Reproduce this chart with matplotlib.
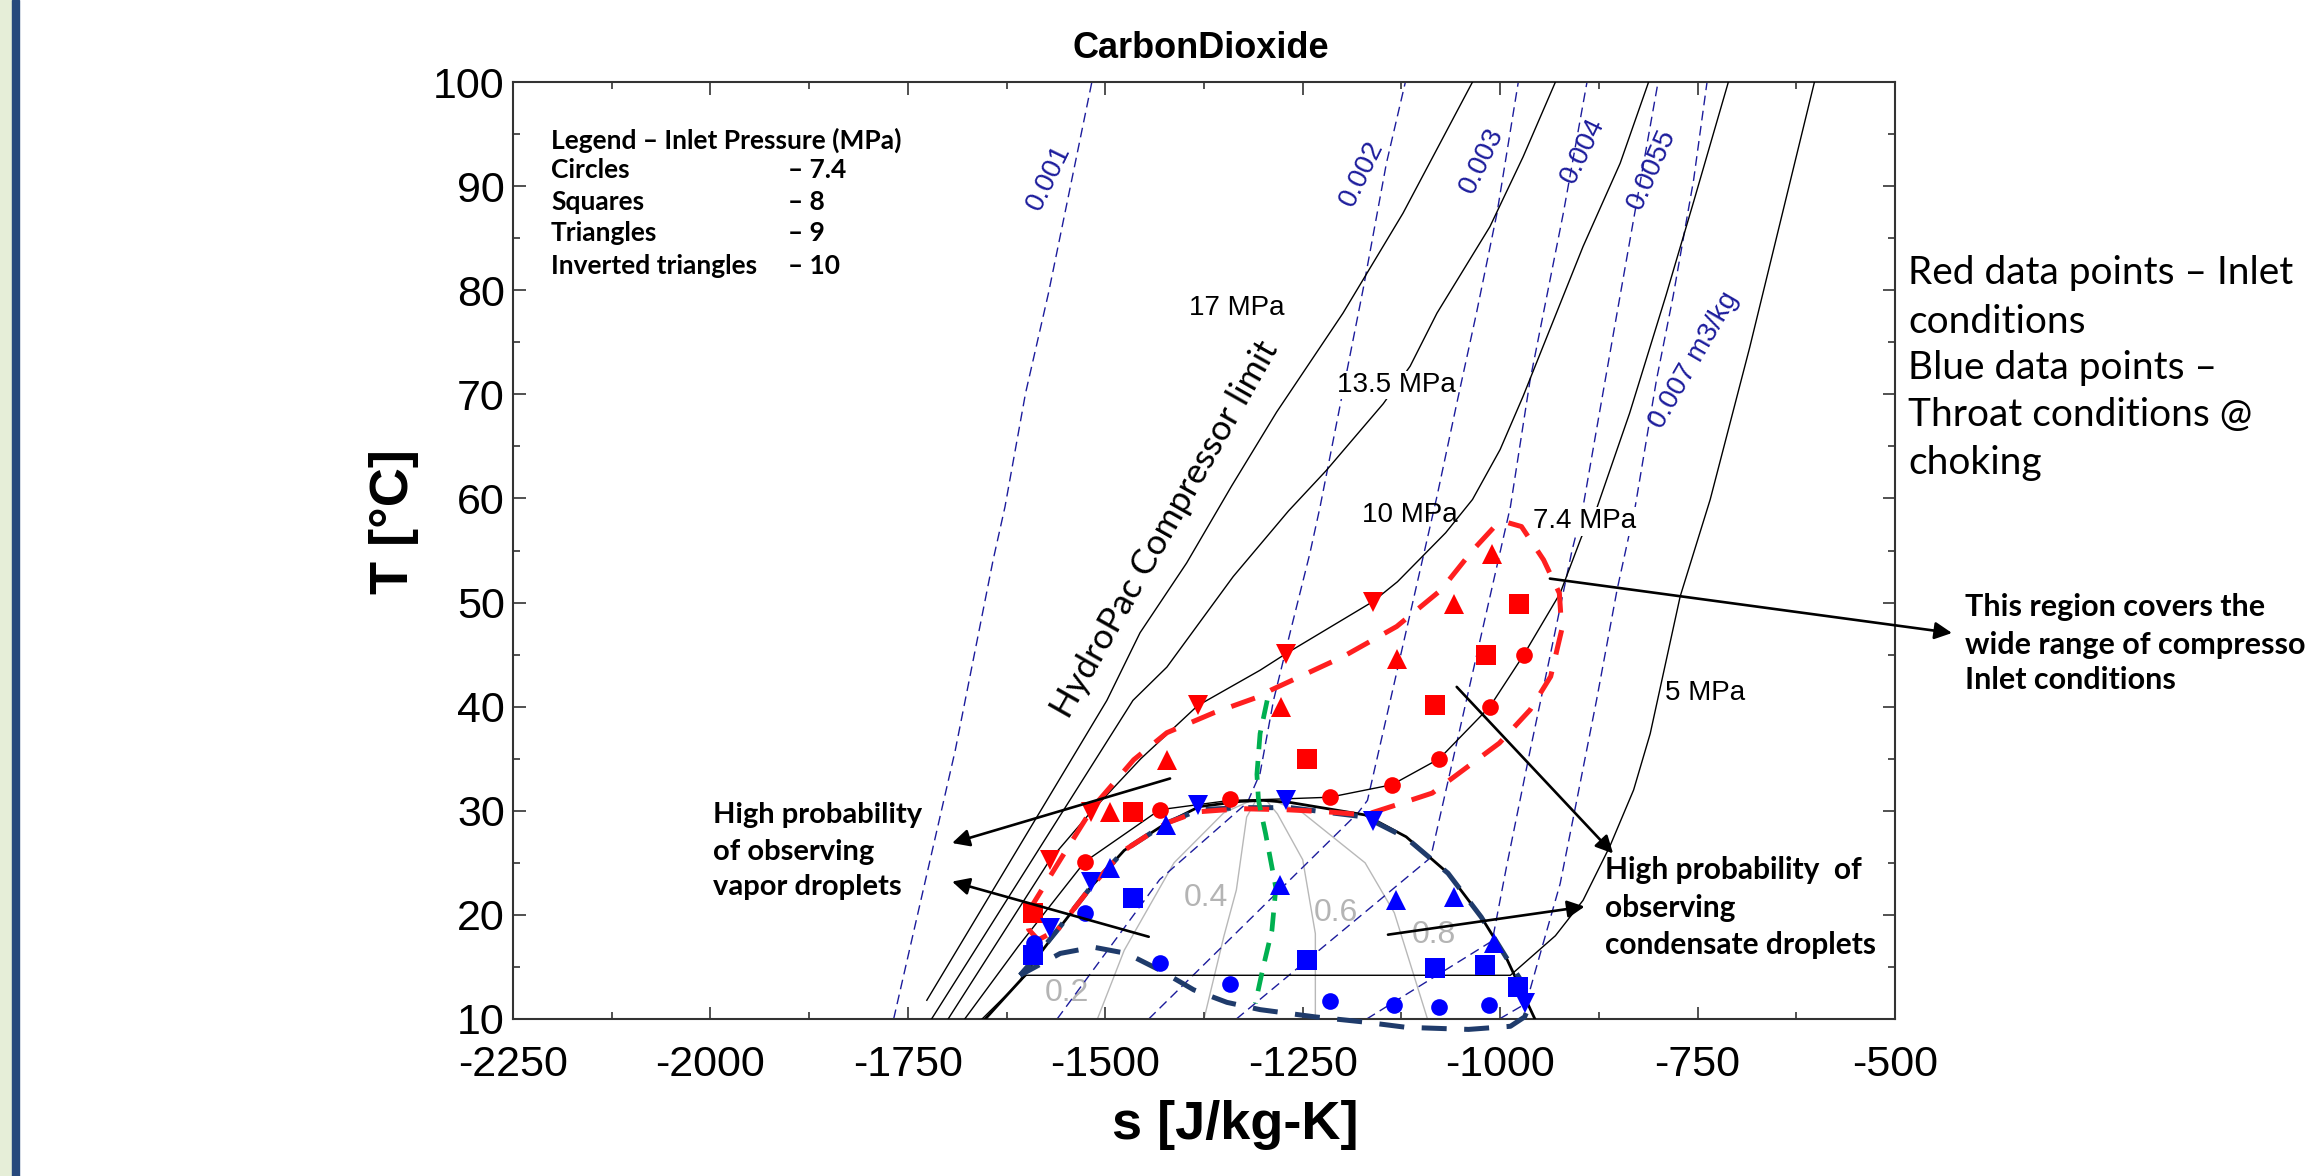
import matplotlib
matplotlib.use("Agg")
import matplotlib.pyplot as plt
from matplotlib.patches import Rectangle

plt.rcParams["axes.unicode_minus"] = False

# ------------------------------------------------------------------ data
x_ticks = [-2250, -2000, -1750, -1500, -1250, -1000, -750, -500]
y_ticks = [10, 20, 30, 40, 50, 60, 70, 80, 90, 100]

# saturation dome
dome_s = [-1652, -1607, -1592, -1560, -1518, -1476, -1423, -1381, -1329, -1300, -1266, -1171, -1119, -1066, -1024, -993, -956]
dome_T = [10, 13.75, 15.35, 18.55, 22.7, 26.2, 28.8, 30.4, 30.9, 31.0, 30.8, 29.6, 27.5, 24.0, 19.8, 16.0, 10]

# isobars (MPa)
p17_s = [-1726, -1612, -1498, -1456, -1397, -1340, -1283, -1199, -1123, -1035]
p17_T = [11.8, 26.2, 40.6, 47.1, 53.8, 61.2, 68.3, 77.8, 87.4, 100]
p135_s = [-1720, -1465, -1422, -1338, -1268, -1220, -1148, -1114, -1080, -1013, -971, -930]
p135_T = [10, 40.6, 43.8, 52.5, 58.8, 62.7, 69.1, 72.7, 77.8, 86.1, 92.8, 100]
p10_s = [-1699, -1570, -1518, -1455, -1383, -1304, -1271, -1161, -1130, -1069, -1035, -1000, -971, -895, -848, -812]
p10_T = [10, 25.3, 29.9, 35.0, 40.1, 43.5, 45.1, 50.1, 52.0, 56.7, 59.9, 64.7, 69.8, 84.2, 92.2, 100]
p74_s = [-1678, -1610, -1526, -1431, -1342, -1290, -1216, -1137, -1077, -1013, -970, -924, -897, -877, -836, -790, -755, -711]
p74_T = [10, 17.0, 25.1, 30.1, 31.0, 31.1, 31.3, 32.5, 35.0, 40.0, 45.0, 50.9, 56.3, 59.2, 68.2, 79.5, 88.5, 100]
p5_s = [-1656, -1600, -987, -975, -930, -895, -861, -831, -810, -772, -734, -684, -602]
p5_T = [10, 14.2, 14.2, 15.0, 18.0, 21.4, 26.6, 32.0, 37.4, 50.6, 59.9, 74.5, 100]

# isochores (m3/kg)
v001_s = [-1768, -1690, -1642, -1627, -1601, -1572, -1517]
v001_T = [10, 35.8, 54.1, 59.2, 70.1, 79.7, 100]
v002_s = [-1561, -1431, -1320, -1304, -1287, -1266, -1241, -1228, -1203, -1173, -1144, -1120]
v002_T = [10, 23.4, 30.8, 33.6, 40.6, 47.1, 54.7, 59.2, 68.8, 80.3, 92.2, 100]
v003_s = [-1445, -1180, -1168, -1080, -1055, -1030, -1004, -977]
v003_T = [10, 29.8, 31.0, 60.2, 69.1, 77.8, 87.4, 100]
v004_s = [-1334, -1088, -987, -962, -941, -920, -890]
v004_T = [10, 25.5, 59.2, 71.4, 79.4, 87.4, 100]
v0055_s = [-1169, -1010, -992, -962, -937, -909, -895, -878, -852, -831, -800]
v0055_T = [10, 17.5, 24.6, 35.8, 44.8, 55.0, 59.2, 66.6, 77.8, 86.8, 100]
v007_s = [-1001, -967, -954, -924, -903, -878, -852, -829, -802, -781, -755, -738]
v007_T = [10, 11.5, 15.0, 23.0, 31.0, 40.6, 51.2, 59.2, 71.4, 79.4, 90.6, 100]

# vapour quality lines
q02_s = [-1510, -1476, -1413, -1350, -1318]
q02_T = [10, 16.6, 25.0, 29.8, 30.9]
q04_s = [-1375, -1350, -1334, -1321, -1310]
q04_T = [10, 17.9, 22.4, 29.4, 30.9]
q06_s = [-1234, -1234, -1250, -1282, -1295]
q06_T = [10, 18.2, 25.3, 29.7, 30.9]
q08_s = [-1092, -1134, -1171, -1250, -1285]
q08_T = [10, 20.2, 25.0, 29.8, 30.9]

# inlet conditions (red)
red_circ_s = [-1526, -1431, -1342, -1216, -1137, -1077, -1013, -970]
red_circ_T = [25.1, 30.1, 31.1, 31.3, 32.5, 35.0, 40.0, 45.0]
red_sq_s = [-1592, -1465, -1244, -1082, -1018, -976]
red_sq_T = [20.2, 29.9, 35.0, 40.2, 45.0, 49.9]
red_tri_s = [-1494, -1422, -1278, -1131, -1058, -1010]
red_tri_T = [29.9, 34.9, 40.0, 44.6, 49.9, 54.7]
red_inv_s = [-1570, -1518, -1383, -1271, -1161]
red_inv_T = [25.3, 29.9, 40.2, 45.1, 50.1]

# throat conditions at choking (blue)
blue_circ_s = [-1590, -1526, -1431, -1342, -1216, -1134, -1077, -1014]
blue_circ_T = [17.3, 20.2, 15.35, 13.4, 11.7, 11.3, 11.2, 11.3]
blue_sq_s = [-1592, -1465, -1244, -1082, -1019, -977]
blue_sq_T = [16.1, 21.6, 15.7, 14.9, 15.2, 13.1]
blue_tri_s = [-1494, -1423, -1279, -1132, -1058, -1008]
blue_tri_T = [24.5, 28.6, 22.9, 21.4, 21.7, 17.3]
blue_inv_s = [-1570, -1518, -1383, -1271, -1161, -969]
blue_inv_T = [18.7, 23.2, 30.6, 31.0, 29.0, 11.5]

# region boundaries
inlet_s = [-1560, -1585, -1597, -1600, -1591, -1557, -1515, -1464, -1422, -1363, -1304, -1290, -1199, -1131,
           -1075, -1035, -1007, -996, -973, -945, -925, -922, -936, -962, -1001, -1047, -1086, -1130, -1171,
           -1219, -1270, -1329, -1383, -1423, -1476, -1518, -1560]
inlet_T = [18.6, 17.6, 18.6, 19.8, 21.1, 25.3, 30.4, 34.9, 37.5, 39.4, 41.0, 41.6, 44.8, 47.7,
           51.2, 55.0, 57.3, 57.8, 57.3, 54.1, 50.9, 47.4, 42.9, 39.7, 36.5, 33.9, 31.7, 30.6, 29.6,
           29.9, 30.1, 30.2, 29.9, 28.8, 26.2, 22.7, 18.6]
throat_s = [-1608, -1592, -1560, -1518, -1476, -1423, -1381, -1329, -1266, -1171, -1119, -1066, -1024, -993,
            -971, -964, -969, -987, -1040, -1119, -1171, -1234, -1304, -1346, -1388, -1431, -1473, -1515, -1557, -1608]
throat_T = [14.2, 15.6, 18.6, 22.7, 26.2, 28.8, 30.1, 30.3, 30.3, 29.4, 27.4, 24.0, 19.8, 16.0,
            13.4, 11.1, 10.2, 9.3, 9.0, 9.2, 9.7, 10.2, 10.9, 11.6, 12.8, 14.7, 16.3, 16.9, 16.3, 14.2]
pseudo_s = [-1295, -1304, -1308, -1306, -1297, -1284, -1289, -1300, -1310]
pseudo_T = [40.6, 37.4, 33.5, 31.0, 27.8, 22.6, 18.5, 15.0, 11.5]

# ------------------------------------------------------------------ figure
W, H = 2305, 1176
fig = plt.figure(figsize=(W / 100, H / 100), dpi=100)
fig.patch.set_facecolor("white")

# decorative slide strip on the left
fig.patches.append(Rectangle((0, 0), 11.5 / W, 1, transform=fig.transFigure, color="#e6eed8", zorder=0))
fig.patches.append(Rectangle((11.5 / W, 0), 7 / W, 1, transform=fig.transFigure, color="#27497c", zorder=0))

ax = fig.add_axes([513 / W, 1 - 1019 / H, (1895 - 513) / W, (1019 - 82) / H])
ax.set_xlim(-2250, -500)
ax.set_ylim(10, 100)

ARIAL = "Liberation Sans"
CAL = "Lato"
NAVY = "#1c1c9c"

# quality lines
for qs, qt in [(q02_s, q02_T), (q04_s, q04_T), (q06_s, q06_T), (q08_s, q08_T)]:
    ax.plot(qs, qt, color="#b8b8b8", lw=1.0, zorder=1)
for lab, s, t in [("0.2", -1549, 12.5), ("0.4", -1372, 21.6), ("0.6", -1208, 20.2), ("0.8", -1084, 18.1)]:
    ax.text(s, t, lab, color="#b4b4b4", fontsize=23, family=ARIAL, ha="center", va="center", zorder=2)

# isochores
for vs, vt in [(v001_s, v001_T), (v002_s, v002_T), (v003_s, v003_T), (v004_s, v004_T), (v0055_s, v0055_T), (v007_s, v007_T)]:
    ax.plot(vs, vt, color=NAVY, lw=1.0, ls=(0, (7, 4)), zorder=2)
for lab, s, t, r in [("0.001", -1571, 90.8, 64), ("0.002", -1175, 91.2, 64), ("0.003", -1023, 92.4, 64),
                     ("0.004", -895, 93.4, 64), ("0.0055", -808, 91.6, 66), ("0.007 m3/kg", -755, 73.3, 60)]:
    ax.text(s, t, lab, color=NAVY, fontsize=20, family=ARIAL, ha="center", va="center", rotation=r,
            rotation_mode="anchor", zorder=3)

# isobars
for ps, pt in [(p17_s, p17_T), (p135_s, p135_T), (p10_s, p10_T), (p74_s, p74_T), (p5_s, p5_T)]:
    ax.plot(ps, pt, color="black", lw=1.0, zorder=3)
ax.plot(dome_s, dome_T, color="black", lw=2.0, zorder=3)

box = dict(facecolor="white", edgecolor="none", pad=1)
ax.text(-1334, 78.3, "17 MPa", fontsize=20, family=ARIAL, ha="center", va="center", zorder=4)
ax.text(-1131, 70.9, "13.5 MPa", fontsize=20, family=ARIAL, ha="center", va="center", bbox=box, zorder=4)
ax.text(-1114, 58.4, "10 MPa", fontsize=20, family=ARIAL, ha="center", va="center", zorder=4)
ax.text(-893, 57.8, "7.4 MPa", fontsize=20, family=ARIAL, ha="center", va="center", bbox=box, zorder=4)
ax.text(-741, 41.3, "5 MPa", fontsize=20, family=ARIAL, ha="center", va="center", zorder=4)
ax.text(-1424, 57.0, "HydroPac Compressor limit", fontsize=25.5, family=CAL, ha="center", va="center",
        rotation=60.5, rotation_mode="anchor", zorder=4)

# region boundaries
ax.plot(throat_s, throat_T, color="#1f3b6b", lw=3.6, ls=(0, (5, 3.5)), zorder=5, clip_on=False)
ax.plot(inlet_s, inlet_T, color="#ff1f1f", lw=3.6, ls=(6, (5, 3.5)), zorder=6)
ax.plot(pseudo_s, pseudo_T, color="#00b050", lw=3.4, ls=(0, (4, 2.5)), zorder=6)

# data markers
ms = dict(ls="none", zorder=8, markeredgewidth=0)
ax.plot(red_circ_s, red_circ_T, "o", color="#ff0000", ms=12, **ms)
ax.plot(red_sq_s, red_sq_T, "s", color="#ff0000", ms=14, **ms)
ax.plot(red_tri_s, red_tri_T, "^", color="#ff0000", ms=15, **ms)
ax.plot(red_inv_s, red_inv_T, "v", color="#ff0000", ms=15, **ms)
ax.plot(blue_circ_s, blue_circ_T, "o", color="#0000ff", ms=12, **ms)
ax.plot(blue_sq_s, blue_sq_T, "s", color="#0000ff", ms=14, **ms)
ax.plot(blue_tri_s, blue_tri_T, "^", color="#0000ff", ms=15, **ms)
ax.plot(blue_inv_s, blue_inv_T, "v", color="#0000ff", ms=15, **ms)

# arrows
ap = dict(arrowstyle="-|>", color="black", lw=1.9, mutation_scale=26, shrinkA=0, shrinkB=0)
ax.annotate("", xy=(-1694, 26.9), xytext=(-1418, 33.1), arrowprops=ap, zorder=9)
ax.annotate("", xy=(-1694, 23.2), xytext=(-1445, 17.9), arrowprops=ap, zorder=9)
ax.annotate("", xy=(-857, 25.9), xytext=(-1055, 41.9), arrowprops=ap, zorder=9)
ax.annotate("", xy=(-893, 20.8), xytext=(-1142, 18.1), arrowprops=ap, zorder=9)
ax.annotate("", xy=(1952, H - 633), xycoords="figure pixels", xytext=(-937, 52.3), textcoords="data",
            arrowprops=ap, annotation_clip=False, zorder=9)

# axes styling
ax.set_xticks(x_ticks)
ax.set_yticks(y_ticks)
ax.set_xticks([x + 125 for x in x_ticks[:-1]], minor=True)
ax.set_yticks([y + 5 for y in y_ticks[:-1]], minor=True)
ax.tick_params(which="both", direction="in", top=True, right=True, color="#333333", width=1.2)
ax.tick_params(which="major", length=9)
ax.tick_params(which="minor", length=5)
ax.tick_params(axis="x", which="major", pad=19, labelsize=31)
ax.tick_params(axis="y", which="major", pad=6, labelsize=31)
for lab in ax.get_xticklabels() + ax.get_yticklabels():
    lab.set_family(ARIAL)
for sp in ax.spines.values():
    sp.set_color("#333333")
    sp.set_linewidth(1.5)

fig.text(1201 / W, 1 - 48 / H, "CarbonDioxide", fontsize=26, fontweight="bold", family=ARIAL, ha="center", va="center")
fig.text(394 / W, 1 - 522 / H, "T [°C]", fontsize=39, fontweight="bold", family=ARIAL, ha="center", va="center", rotation=90)
fig.text(1235 / W, 1 - 1125 / H, "s [J/kg-K]", fontsize=39, fontweight="bold", family=ARIAL, ha="center", va="center")

# legend block inside the plot
leg_left = ["Legend – Inlet Pressure (MPa)", "Circles", "Squares", "Triangles", "Inverted triangles"]
leg_right = ["", "– 7.4", "– 8", "– 9", "– 10"]
leg_y = [140, 170, 201.7, 233.3, 265.7]
for a, b, y in zip(leg_left, leg_right, leg_y):
    fig.text(551 / W, 1 - y / H, a, fontsize=19, fontweight="bold", family=CAL, ha="left", va="center")
    if b:
        fig.text(788 / W, 1 - y / H, b, fontsize=19, fontweight="bold", family=CAL, ha="left", va="center")

# side notes
side = ["Red data points – Inlet", "conditions", "Blue data points –", "Throat conditions @", "choking"]
for t, y in zip(side, [273, 322, 368, 415, 463]):
    fig.text(1908 / W, 1 - y / H, t, fontsize=28, family=CAL, ha="left", va="center")
for t, y in zip(["This region covers the", "wide range of compressor", "Inlet conditions"], [607, 645, 680]):
    fig.text(1965 / W, 1 - y / H, t, fontsize=22, fontweight="bold", family=CAL, ha="left", va="center")
for t, y in zip(["High probability", "of observing", "vapor droplets"], [815, 852, 887]):
    fig.text(713 / W, 1 - y / H, t, fontsize=21, fontweight="bold", family=CAL, ha="left", va="center")
for t, y in zip(["High probability  of", "observing", "condensate droplets"], [870, 908, 945]):
    fig.text(1605 / W, 1 - y / H, t, fontsize=21.5, fontweight="bold", family=CAL, ha="left", va="center")

fig.savefig("out.png", dpi=100)
